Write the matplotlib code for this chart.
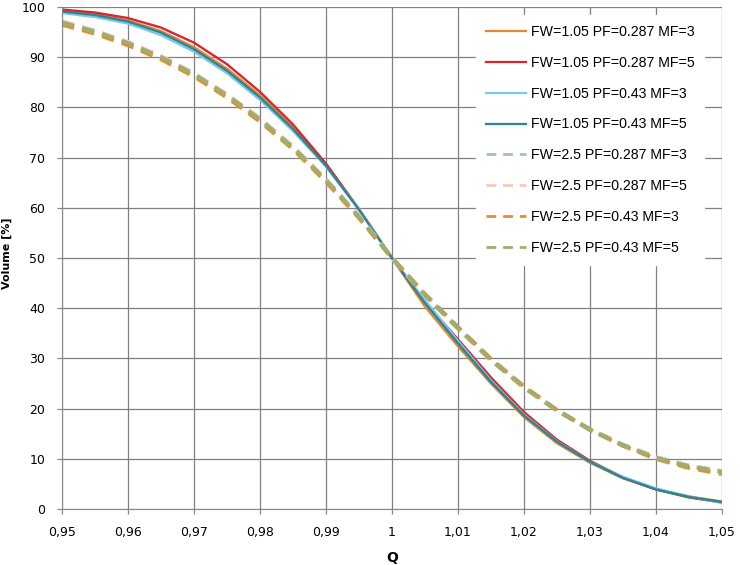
import numpy as np
import matplotlib
matplotlib.use("Agg")
import matplotlib.pyplot as plt
from matplotlib.lines import Line2D

q = [0.950, 0.955, 0.960, 0.965, 0.970, 0.975, 0.980, 0.985, 0.990, 0.995, 1.000,
     1.005, 1.010, 1.015, 1.020, 1.025, 1.030, 1.035, 1.040, 1.045, 1.050]

# solid curves, FW=1.05
fw105_pf0287_mf3 = [99.3, 98.6, 97.3, 95.2, 92.0, 87.7, 82.4, 76.0, 68.7, 59.8, 50.0,
                    40.3, 32.4, 25.0, 18.3, 13.1, 9.2, 6.1, 3.9, 2.5, 1.5]
fw105_pf0287_mf5 = [99.5, 98.9, 97.8, 95.9, 92.9, 88.6, 83.1, 76.6, 68.8, 59.7, 50.0,
                    41.2, 33.8, 26.2, 19.3, 13.8, 9.6, 6.3, 3.9, 2.3, 1.3]
fw105_pf043_mf3 = [98.8, 98.0, 96.7, 94.4, 91.1, 86.8, 81.5, 75.3, 68.2, 59.8, 50.0,
                   41.6, 33.5, 25.6, 18.8, 13.5, 9.4, 6.4, 4.1, 2.5, 1.2]
fw105_pf043_mf5 = [99.1, 98.4, 97.1, 94.9, 91.6, 87.3, 82.0, 75.7, 68.4, 59.6, 50.0,
                   41.0, 33.0, 25.3, 18.6, 13.4, 9.4, 6.2, 3.9, 2.4, 1.4]

# dashed curves, FW=2.5
fw25_pf0287_mf3 = [97.0, 95.2, 92.9, 90.1, 86.7, 82.5, 77.7, 72.1, 65.6, 58.3, 50.0,
                   42.6, 36.1, 29.8, 24.3, 19.7, 15.9, 12.8, 10.3, 8.6, 7.5]
fw25_pf0287_mf5 = [97.1, 95.3, 93.0, 90.2, 86.8, 82.6, 77.8, 72.2, 65.7, 58.4, 50.0,
                   42.5, 36.0, 29.6, 24.2, 19.6, 15.8, 12.7, 10.3, 8.6, 7.5]
fw25_pf043_mf3 = [96.5, 94.7, 92.4, 89.6, 86.2, 82.0, 77.2, 71.7, 65.2, 58.0, 50.0,
                  42.8, 36.2, 29.9, 24.4, 19.7, 15.8, 12.6, 10.0, 8.2, 7.0]
fw25_pf043_mf5 = [96.9, 95.1, 92.8, 90.0, 86.6, 82.4, 77.6, 72.0, 65.5, 58.2, 50.0,
                  42.6, 36.0, 29.7, 24.2, 19.6, 15.8, 12.7, 10.2, 8.5, 7.4]

labels = ["FW=1.05 PF=0.287 MF=3", "FW=1.05 PF=0.287 MF=5",
          "FW=1.05 PF=0.43 MF=3", "FW=1.05 PF=0.43 MF=5",
          "FW=2.5 PF=0.287 MF=3", "FW=2.5 PF=0.287 MF=5",
          "FW=2.5 PF=0.43 MF=3", "FW=2.5 PF=0.43 MF=5"]
series = [fw105_pf0287_mf3, fw105_pf0287_mf5, fw105_pf043_mf3, fw105_pf043_mf5,
          fw25_pf0287_mf3, fw25_pf0287_mf5, fw25_pf043_mf3, fw25_pf043_mf5]
colors = ["#E8862F", "#D9262B", "#7CC8E8", "#2E8494",
          "#A3BCC9", "#F7C9BD", "#EE8A2B", "#9CAF6E"]
dashed = [False, False, False, False, True, True, True, True]

xticks = [0.95, 0.96, 0.97, 0.98, 0.99, 1.00, 1.01, 1.02, 1.03, 1.04, 1.05]
xticklabels = ["0,95", "0,96", "0,97", "0,98", "0,99", "1", "1,01", "1,02", "1,03", "1,04", "1,05"]
yticks = [0, 10, 20, 30, 40, 50, 60, 70, 80, 90, 100]

fig = plt.figure(figsize=(7.4, 5.65), dpi=100)
ax = fig.add_axes([62 / 740, 1 - 509 / 565, 660 / 740, 502 / 565])

handles = []
for ys, c, d, lab in zip(series, colors, dashed, labels):
    if d:
        ax.plot(q, ys, color=c, lw=3.0, linestyle=(0, (3, 2)))
        handles.append(Line2D([], [], color=c, lw=2.0, linestyle=(0, (3.5, 2.5)), label=lab))
    else:
        ax.plot(q, ys, color=c, lw=1.7)
        handles.append(Line2D([], [], color=c, lw=1.6, label=lab))

ax.set_xlim(0.95, 1.05)
ax.set_ylim(0, 100)
ax.set_xticks(xticks)
ax.set_xticklabels(xticklabels)
ax.set_yticks(yticks)
ax.grid(True, color="#808080", lw=0.9)
ax.set_axisbelow(True)
for s in ["top", "right"]:
    ax.spines[s].set_visible(False)
for s in ["left", "bottom"]:
    ax.spines[s].set_color("#888888")
ax.tick_params(length=3.5, width=0.9, color="#888888", pad=8.5, labelsize=9)

ax.set_xlabel("Q", fontsize=10, fontweight="bold", labelpad=9)
ax.set_ylabel("Volume [%]", fontsize=8, fontweight="bold")
ax.yaxis.set_label_coords(-50 / 660, 0.51)

leg = ax.legend(handles=handles, loc="upper left",
                bbox_to_anchor=(476 / 740, 1 - 15 / 565), bbox_transform=fig.transFigure,
                borderaxespad=0, borderpad=0.7, labelspacing=1.19, handlelength=2.8,
                handletextpad=0.35, frameon=True, fancybox=False,
                prop={"family": "Liberation Sans", "size": 10.2})
leg.get_frame().set_facecolor("white")
leg.get_frame().set_edgecolor("white")
leg.get_frame().set_alpha(1.0)

fig.savefig("out.png", dpi=100)
